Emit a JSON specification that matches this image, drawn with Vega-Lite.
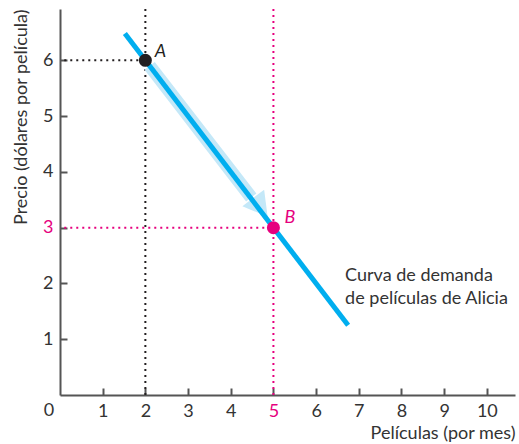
{
  "$schema": "https://vega.github.io/schema/vega-lite/v6.json",
  "width": 455,
  "height": 386,
  "autosize": "none",
  "padding": {"left": 60, "top": 9, "right": 4, "bottom": 49},
  "background": "white",
  "config": {
    "view": {"stroke": null},
    "axis": {
      "grid": false,
      "domainColor": "#555555",
      "domainWidth": 2,
      "tickColor": "#555555",
      "tickWidth": 2,
      "tickSize": -7,
      "labelFont": "Lato",
      "labelFontSize": 18,
      "labelColor": "#333333",
      "titleFont": "Lato",
      "titleFontSize": 18,
      "titleFontWeight": "normal",
      "titleColor": "#333333"
    }
  },
  "datasets": {
    "guides": [
      {"x": 0.1, "y": 6, "x2": 2, "y2": 6, "c": "black"},
      {"x": 2, "y": 0, "x2": 2, "y2": 6.92, "c": "black"},
      {"x": 0.1, "y": 3, "x2": 5, "y2": 3, "c": "pink"},
      {"x": 5, "y": 0, "x2": 5, "y2": 6.92, "c": "pink"}
    ],
    "band": [
      {"x": 2.1, "y": 5.9},
      {"x": 4.48, "y": 3.54}
    ],
    "head": [{"x": 4.64, "y": 3.42}],
    "demand": [
      {"x": 1.52, "y": 6.48},
      {"x": 6.75, "y": 1.25}
    ],
    "points": [
      {"x": 2, "y": 6, "p": "A"},
      {"x": 5, "y": 3, "p": "B"}
    ],
    "labels": [
      {"x": 2.22, "y": 6.15, "t": "A", "c": "black"},
      {"x": 5.26, "y": 3.17, "t": "B", "c": "pink"}
    ],
    "curve": [
      {"x": 6.68, "y": 2.04, "t": "Curva de demanda"},
      {"x": 6.68, "y": 1.64, "t": "de películas de Alicia"}
    ],
    "origin": [{"x": 0, "y": 0, "t": "0"}]
  },
  "layer": [
    {
      "data": {"name": "guides"},
      "mark": {"type": "rule", "strokeDash": [2, 4], "strokeWidth": 2},
      "encoding": {
        "x": {
          "field": "x", "type": "quantitative",
          "scale": {"domain": [0, 10.66], "nice": false, "zero": false},
          "axis": {
            "values": [1, 2, 3, 4, 5, 6, 7, 8, 9, 10],
            "format": "d",
            "title": "Películas (por mes)",
            "titleAnchor": "end",
            "titlePadding": 4,
            "labelPadding": 14,
            "labelColor": {"condition": {"test": "datum.value == 5", "value": "#e6007e"}, "value": "#333333"}
          }
        },
        "y": {
          "field": "y", "type": "quantitative",
          "scale": {"domain": [0, 6.92], "nice": false, "zero": false},
          "axis": {
            "values": [1, 2, 3, 4, 5, 6],
            "format": "d",
            "title": "Precio (dólares por película)",
            "titleAnchor": "end",
            "titlePadding": 12,
            "labelPadding": 14,
            "labelColor": {"condition": {"test": "datum.value == 3", "value": "#e6007e"}, "value": "#333333"}
          }
        },
        "x2": {"field": "x2"},
        "y2": {"field": "y2"},
        "color": {
          "field": "c", "type": "nominal",
          "scale": {"domain": ["black", "pink"], "range": ["#231f20", "#e6007e"]},
          "legend": null
        }
      }
    },
    {
      "data": {"name": "band"},
      "mark": {"type": "line", "strokeWidth": 13, "color": "#c4e8f8", "strokeCap": "butt"},
      "encoding": {
        "x": {"field": "x", "type": "quantitative"},
        "y": {"field": "y", "type": "quantitative"}
      }
    },
    {
      "data": {"name": "head"},
      "mark": {"type": "point", "shape": "triangle", "filled": true, "size": 750, "angle": 142.6, "color": "#c4e8f8", "opacity": 1},
      "encoding": {
        "x": {"field": "x", "type": "quantitative"},
        "y": {"field": "y", "type": "quantitative"}
      }
    },
    {
      "data": {"name": "demand"},
      "mark": {"type": "line", "strokeWidth": 5, "color": "#00aeef", "strokeCap": "butt"},
      "encoding": {
        "x": {"field": "x", "type": "quantitative"},
        "y": {"field": "y", "type": "quantitative"}
      }
    },
    {
      "data": {"name": "points"},
      "mark": {"type": "circle", "size": 170, "opacity": 1},
      "encoding": {
        "x": {"field": "x", "type": "quantitative"},
        "y": {"field": "y", "type": "quantitative"},
        "color": {
          "field": "p", "type": "nominal",
          "scale": {"domain": ["A", "B"], "range": ["#231f20", "#e6007e"]},
          "legend": null
        }
      }
    },
    {
      "data": {"name": "labels"},
      "mark": {"type": "text", "font": "Lato", "fontSize": 18, "fontStyle": "italic", "align": "left", "baseline": "middle"},
      "encoding": {
        "x": {"field": "x", "type": "quantitative"},
        "y": {"field": "y", "type": "quantitative"},
        "text": {"field": "t"},
        "color": {
          "field": "c", "type": "nominal",
          "scale": {"domain": ["black", "pink"], "range": ["#231f20", "#e6007e"]},
          "legend": null
        }
      }
    },
    {
      "data": {"name": "curve"},
      "mark": {"type": "text", "font": "Lato", "fontSize": 18, "align": "left", "baseline": "alphabetic", "color": "#333333"},
      "encoding": {
        "x": {"field": "x", "type": "quantitative"},
        "y": {"field": "y", "type": "quantitative"},
        "text": {"field": "t"}
      }
    },
    {
      "data": {"name": "origin"},
      "mark": {"type": "text", "font": "Lato", "fontSize": 18, "align": "center", "baseline": "top", "dx": -11, "dy": 7, "color": "#333333"},
      "encoding": {
        "x": {"field": "x", "type": "quantitative"},
        "y": {"field": "y", "type": "quantitative"},
        "text": {"field": "t"}
      }
    }
  ]
}
